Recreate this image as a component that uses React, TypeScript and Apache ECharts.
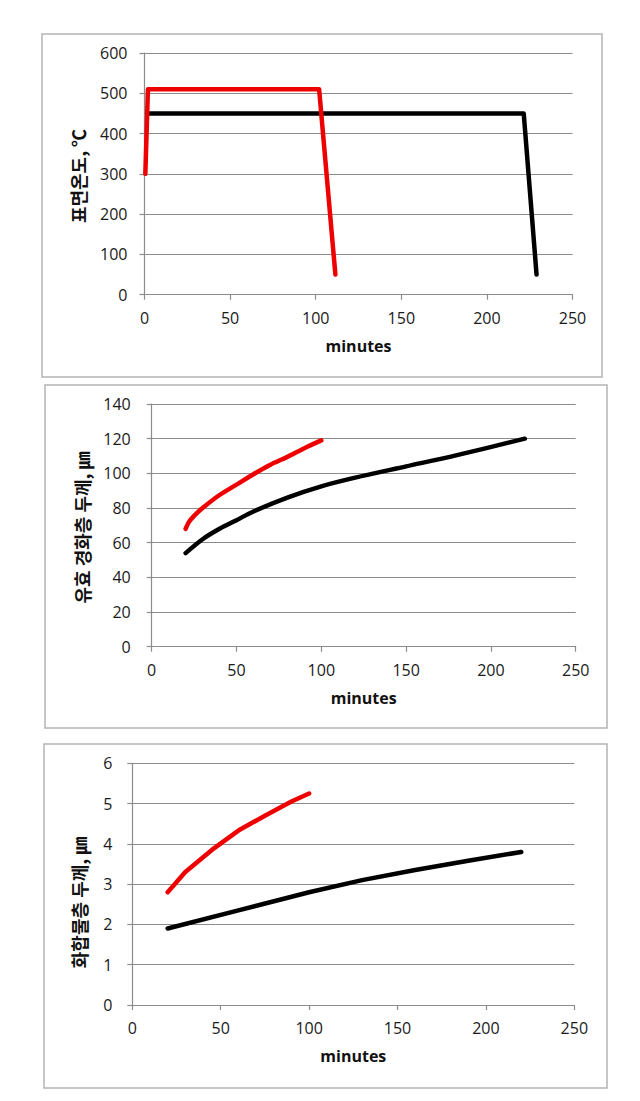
import React, { useEffect, useRef } from "react";
import * as echarts from "echarts";

// Panel 1: surface temperature (℃) vs minutes
const tempRedMinutes = [0.5, 2, 102, 111.5];
const tempRedValues = [300, 510, 510, 50];
const tempBlackMinutes = [1.5, 221.5, 229];
const tempBlackValues = [450, 450, 50];

// Panel 2: effective hardened layer depth (㎛)
const hardRedMinutes = [20, 22, 25, 30, 40, 50, 60, 70, 80, 90, 100];
const hardRedValues = [68, 72, 75.5, 80, 87.5, 93.5, 99.5, 105, 109.5, 114.5, 119];
const hardBlackMinutes = [20, 30, 40, 50, 60, 80, 100, 120, 150, 180, 220];
const hardBlackValues = [54, 62, 68, 73, 78, 86, 92.5, 97.5, 104, 110.5, 120];

// Panel 3: compound layer thickness (㎛)
const compRedMinutes = [20, 30, 45, 60, 75, 90, 100];
const compRedValues = [2.8, 3.3, 3.85, 4.33, 4.7, 5.05, 5.25];
const compBlackMinutes = [20, 60, 100, 130, 160, 190, 220];
const compBlackValues = [1.9, 2.35, 2.8, 3.1, 3.35, 3.58, 3.8];

const xTicks = [0, 50, 100, 150, 200, 250];
const yTitles = ["표면온도, ℃", "유효 경화층 두께, ㎛", "화합물층 두께, ㎛"];
const xTitle = "minutes";

const pairs = (xs: number[], ys: number[]) => xs.map((x, i) => [x, ys[i]]);

const NUM_FONT = "'Open Sans', 'Noto Sans', sans-serif";
const KR_FONT = "'Noto Sans CJK KR', 'Noto Sans', sans-serif";
const GRID_COLOR = "#8c8c8c";

export default function App() {
  const ref = useRef<HTMLDivElement>(null);

  useEffect(() => {
    document.body.style.margin = "0";
    if (!ref.current) return;
    const chart = echarts.init(ref.current, undefined, { renderer: "svg" });

    const grids = [
      { left: 144.5, top: 53, width: 428, height: 241.7 },
      { left: 151.7, top: 404, width: 424, height: 242.7 },
      { left: 132.3, top: 763.3, width: 442, height: 241.7 },
    ];
    const yMax = [600, 140, 6];
    const yInt = [100, 20, 1];
    const yLabelMargin = [17, 21, 20];

    const xAxes = grids.map((_, i) => ({
      type: "value",
      gridIndex: i,
      min: 0,
      max: 250,
      interval: 50,
      name: xTitle,
      nameLocation: "middle",
      nameGap: 43,
      nameTextStyle: { fontFamily: NUM_FONT, fontWeight: "bold", fontSize: 16, color: "#111" },
      axisLine: { show: true, onZero: false, lineStyle: { color: GRID_COLOR, width: 1.2 } },
      axisTick: { show: true, length: 5, lineStyle: { color: GRID_COLOR, width: 1.2 } },
      splitLine: { show: false },
      axisLabel: {
        fontFamily: NUM_FONT,
        fontSize: 16,
        color: "#1a1a1a",
        margin: 15,
        formatter: (v: number) => (xTicks.includes(v) ? String(v) : ""),
      },
    }));

    const yAxes = grids.map((_, i) => ({
      type: "value",
      gridIndex: i,
      min: 0,
      max: yMax[i],
      interval: yInt[i],
      axisLine: { show: true, lineStyle: { color: GRID_COLOR, width: 1.2 } },
      axisTick: { show: true, length: 5, lineStyle: { color: GRID_COLOR, width: 1.2 } },
      splitLine: { show: true, lineStyle: { color: GRID_COLOR, width: 1.2 } },
      axisLabel: { fontFamily: NUM_FONT, fontSize: 16, color: "#1a1a1a", margin: yLabelMargin[i] },
    }));

    const line = (data: number[][], color: string, idx: number, smooth: number | boolean) => ({
      type: "line",
      xAxisIndex: idx,
      yAxisIndex: idx,
      data,
      showSymbol: false,
      symbol: "none",
      smooth,
      lineStyle: { color, width: 4.5, cap: "round", join: "round" },
      itemStyle: { color },
    });

    const borders = [
      { x: 42, y: 34, w: 560, h: 343 },
      { x: 45, y: 385, w: 562, h: 343 },
      { x: 44, y: 744, w: 563, h: 344 },
    ];
    const titlePos = [
      { x: 77.6, y: 176 },
      { x: 82, y: 527.5 },
      { x: 79, y: 902.5 },
    ];

    chart.setOption({
      animation: false,
      backgroundColor: "#ffffff",
      grid: grids.map((g) => ({ ...g, containLabel: false })),
      xAxis: xAxes,
      yAxis: yAxes,
      series: [
        line(pairs(tempBlackMinutes, tempBlackValues), "#000000", 0, false),
        line(pairs(tempRedMinutes, tempRedValues), "#ee0000", 0, false),
        line(pairs(hardBlackMinutes, hardBlackValues), "#000000", 1, 0.3),
        line(pairs(hardRedMinutes, hardRedValues), "#ee0000", 1, 0.3),
        line(pairs(compBlackMinutes, compBlackValues), "#000000", 2, false),
        line(pairs(compRedMinutes, compRedValues), "#ee0000", 2, false),
      ],
      graphic: [
        ...borders.map((b) => ({
          type: "rect",
          z: -10,
          silent: true,
          shape: { x: b.x, y: b.y, width: b.w, height: b.h },
          style: { fill: "none", stroke: "#b4b4b4", lineWidth: 1.5 },
        })),
        ...titlePos.map((p, i) => ({
          type: "text",
          x: p.x,
          y: p.y,
          rotation: Math.PI / 2,
          silent: true,
          style: {
            text: yTitles[i],
            fontFamily: KR_FONT,
            fontWeight: "bold",
            fontSize: 18,
            fill: "#111",
            align: "center",
            verticalAlign: "middle",
          },
        })),
      ],
    });

    return () => chart.dispose();
  }, []);

  return <div ref={ref} style={{ width: 640, height: 1101 }} />;
}
